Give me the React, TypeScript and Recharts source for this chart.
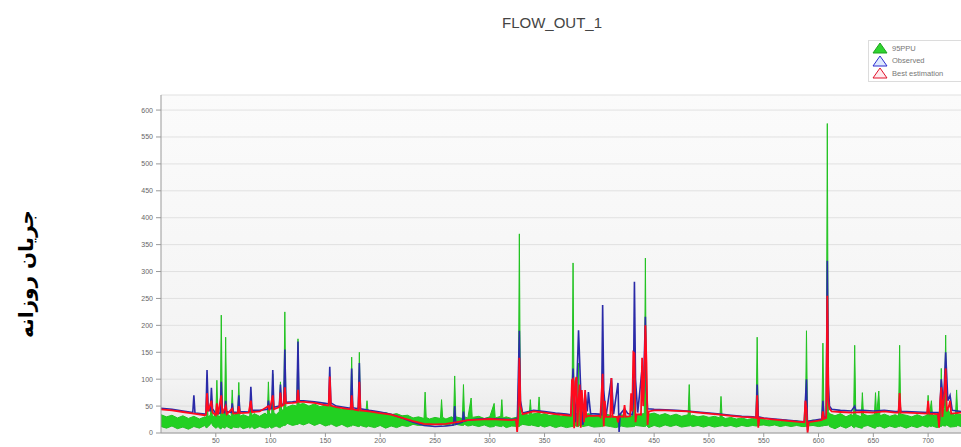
import { Area, CartesianGrid, ComposedChart, Line, XAxis, YAxis } from "recharts";

// 95PPU band: [day, lower, upper]
const ppuBand: [number, number, number][] = [
  [0, 12, 34], [5, 9, 30], [10, 13, 33], [15, 8, 28], [20, 11, 32], [25, 7, 27], [30, 12, 31], [35, 9, 26],
  [40, 14, 30], [41, 10, 28], [42, 10, 60], [43, 12, 30], [45, 16, 33], [46, 20, 50], [47, 14, 30], [50, 9, 34],
  [51, 10, 98], [52, 12, 32], [54, 8, 30], [55, 8, 219], [56, 11, 40], [58, 9, 35], [59, 10, 178], [60, 12, 36],
  [64, 8, 30], [65, 9, 80], [66, 11, 33], [70, 10, 36], [71, 10, 94], [72, 12, 31], [75, 8, 34], [80, 11, 30],
  [81, 9, 33], [82, 10, 70], [83, 12, 32], [85, 8, 36], [90, 12, 31], [95, 9, 37], [97, 10, 33], [98, 10, 95],
  [99, 12, 35], [101, 9, 36], [102, 10, 110], [103, 11, 38], [105, 13, 34], [108, 10, 40], [109, 10, 95], [110, 12, 42],
  [112, 14, 44], [113, 14, 225], [114, 15, 46], [115, 18, 48], [120, 14, 52], [124, 16, 50], [125, 16, 175], [126, 18, 53],
  [130, 15, 55], [135, 19, 50], [140, 14, 54], [145, 18, 49], [150, 13, 52], [153, 15, 48], [154, 15, 80], [155, 17, 50],
  [160, 12, 47], [165, 16, 44], [170, 11, 46], [173, 13, 42], [174, 13, 141], [175, 15, 44], [180, 12, 43], [181, 12, 150],
  [182, 14, 41], [187, 11, 40], [188, 11, 60], [189, 13, 38], [195, 10, 40], [200, 14, 36], [205, 9, 38], [210, 13, 34],
  [215, 10, 36], [220, 14, 32], [225, 12, 33], [230, 16, 28], [235, 14, 30], [240, 15, 27], [241, 15, 76], [242, 16, 29],
  [245, 14, 26], [250, 16, 29], [255, 15, 27], [256, 15, 62], [257, 16, 29], [260, 14, 26], [265, 17, 30], [267, 15, 28],
  [268, 15, 106], [269, 16, 30], [275, 14, 27], [276, 14, 90], [277, 16, 30], [280, 13, 28], [283, 14, 65], [284, 15, 29],
  [290, 12, 31], [295, 15, 27], [300, 11, 30], [304, 12, 55], [305, 14, 28], [310, 12, 31], [311, 12, 62], [312, 14, 28],
  [315, 10, 30], [320, 13, 27], [326, 12, 30], [327, 12, 370], [328, 14, 34], [330, 16, 36], [336, 14, 33], [337, 14, 62],
  [338, 15, 35], [344, 12, 37], [345, 12, 67], [346, 14, 34], [350, 11, 36], [355, 14, 32], [360, 10, 35], [365, 13, 31],
  [370, 10, 33], [375, 12, 32], [376, 12, 316], [377, 14, 40], [380, 12, 35], [381, 12, 130], [382, 14, 38], [385, 12, 33],
  [390, 14, 36], [395, 11, 32], [402, 12, 34], [403, 12, 140], [404, 14, 36], [410, 12, 33], [415, 10, 30], [420, 13, 34],
  [425, 11, 31], [431, 12, 32], [432, 12, 160], [433, 14, 34], [441, 12, 36], [442, 12, 325], [443, 14, 40], [445, 10, 35],
  [450, 14, 37], [455, 11, 33], [460, 15, 36], [465, 12, 32], [470, 15, 35], [475, 11, 31], [481, 13, 34], [482, 13, 90],
  [483, 14, 31], [485, 12, 33], [490, 14, 30], [495, 11, 32], [500, 14, 29], [505, 11, 31], [510, 13, 28], [511, 13, 68],
  [512, 14, 30], [515, 12, 27], [520, 14, 29], [525, 11, 26], [530, 14, 28], [535, 12, 25], [540, 14, 27], [543, 13, 26],
  [544, 13, 178], [545, 14, 28], [550, 15, 25], [555, 13, 23], [560, 15, 25], [565, 12, 22], [570, 14, 24], [575, 12, 21],
  [580, 14, 23], [585, 12, 20], [588, 12, 21], [589, 12, 190], [590, 13, 22], [595, 14, 24], [600, 12, 22], [603, 13, 24],
  [604, 13, 167], [605, 14, 28], [607, 14, 30], [608, 14, 575], [609, 16, 40], [610, 12, 36], [615, 8, 32], [620, 13, 36],
  [625, 9, 30], [630, 14, 35], [632, 10, 31], [633, 10, 163], [634, 12, 34], [639, 9, 30], [640, 9, 75], [641, 12, 35],
  [645, 14, 32], [651, 9, 34], [652, 9, 75], [653, 12, 33], [655, 12, 78], [656, 13, 32], [660, 9, 35], [665, 13, 31],
  [670, 10, 34], [673, 12, 31], [674, 12, 163], [675, 13, 35], [680, 9, 33], [685, 13, 30], [690, 10, 34], [695, 14, 30],
  [699, 11, 33], [700, 11, 70], [701, 13, 31], [703, 12, 60], [704, 13, 32], [708, 10, 34], [711, 12, 35], [712, 12, 120],
  [713, 14, 40], [715, 13, 45], [716, 13, 182], [717, 15, 50], [720, 11, 36], [725, 12, 33], [726, 12, 80], [727, 14, 35],
  [730, 12, 34],
];

// Observed: [day, flow]
const observed: [number, number][] = [
  [0, 46], [10, 44], [20, 41], [29, 38], [30, 70], [31, 37], [40, 35], [41, 36], [42, 117], [43, 50], [45, 40], [46, 84],
  [47, 45], [50, 36], [54, 37], [55, 95], [56, 40], [58, 38], [59, 60], [60, 40], [64, 38], [65, 55], [66, 39], [70, 38],
  [71, 70], [72, 40], [80, 39], [81, 40], [82, 86], [83, 42], [90, 42], [97, 44], [98, 60], [99, 45], [101, 45], [102, 117],
  [103, 48], [108, 50], [109, 90], [110, 52], [112, 54], [113, 155], [114, 57], [120, 58], [124, 59], [125, 170], [126, 60],
  [130, 60], [140, 58], [150, 55], [153, 54], [154, 123], [155, 56], [160, 50], [170, 47], [173, 46], [174, 120], [175, 47],
  [180, 45], [181, 130], [182, 45], [190, 42], [200, 39], [210, 35], [220, 28], [230, 20], [240, 14], [250, 12], [260, 13],
  [267, 15], [268, 50], [269, 16], [275, 20], [276, 40], [277, 22], [280, 24], [290, 26], [300, 27], [310, 26], [320, 25],
  [324, 26], [325, 10], [327, 190], [328, 60], [330, 37], [340, 42], [350, 40], [360, 37], [370, 35], [374, 34], [376, 120],
  [378, 20], [379, 60], [381, 191], [383, 80], [385, 15], [387, 75], [389, 40], [390, 76], [392, 36], [400, 35], [402, 34],
  [403, 238], [404, 80], [406, 30], [411, 102], [413, 35], [417, 93], [418, 2], [419, 35], [423, 45], [426, 36], [430, 34],
  [431, 60], [432, 281], [433, 100], [435, 38], [439, 120], [440, 60], [442, 216], [443, 80], [444, 45], [450, 44], [460, 43],
  [470, 42], [480, 41], [490, 39], [500, 37], [510, 35], [520, 33], [530, 31], [540, 30], [543, 29], [544, 90], [545, 30],
  [550, 28], [560, 26], [570, 24], [580, 22], [587, 21], [589, 100], [590, 5], [591, 22], [600, 25], [603, 26], [604, 60],
  [605, 28], [607, 30], [608, 320], [609, 90], [610, 50], [612, 44], [620, 42], [630, 41], [633, 50], [634, 42], [640, 42],
  [650, 41], [660, 42], [670, 40], [673, 40], [674, 60], [675, 40], [680, 40], [690, 39], [700, 38], [709, 38], [710, 15],
  [712, 100], [714, 50], [716, 150], [718, 60], [720, 70], [722, 42], [730, 40],
];

// Best estimation: [day, flow]
const bestEstimation: [number, number][] = [
  [0, 44], [10, 42], [20, 39], [30, 36], [40, 33], [41, 34], [42, 74], [43, 40], [46, 60], [47, 38], [50, 33], [51, 55],
  [52, 34], [55, 70], [56, 36], [59, 50], [60, 35], [65, 45], [66, 36], [70, 37], [71, 50], [72, 37], [80, 38], [82, 60],
  [83, 39], [90, 40], [98, 50], [99, 42], [102, 70], [103, 44], [108, 48], [109, 75], [110, 50], [112, 52], [113, 85],
  [114, 55], [120, 56], [124, 57], [125, 80], [126, 58], [130, 58], [140, 56], [150, 52], [153, 51], [154, 105], [155, 51],
  [160, 48], [170, 45], [173, 44], [174, 70], [175, 44], [180, 42], [181, 95], [182, 42], [190, 40], [200, 37], [210, 34],
  [220, 28], [230, 22], [240, 17], [250, 16], [260, 17], [270, 20], [280, 24], [290, 25], [300, 26], [310, 25], [320, 24],
  [324, 25], [325, 2], [326, 30], [327, 140], [328, 50], [330, 35], [340, 40], [350, 38], [360, 35], [370, 33], [374, 32],
  [375, 98], [376, 100], [377, 9], [378, 95], [379, 104], [380, 12], [381, 60], [382, 90], [383, 10], [384, 80], [386, 20],
  [387, 80], [388, 30], [390, 32], [400, 32], [401, 30], [402, 74], [403, 110], [404, 12], [405, 60], [406, 30], [410, 30],
  [411, 102], [412, 30], [416, 30], [417, 20], [418, 31], [422, 30], [423, 52], [424, 30], [428, 31], [429, 74], [430, 40],
  [431, 150], [432, 148], [433, 20], [434, 35], [438, 34], [439, 140], [440, 50], [441, 100], [442, 200], [443, 130],
  [444, 15], [445, 40], [450, 42], [460, 42], [470, 41], [480, 40], [490, 38], [500, 36], [510, 34], [520, 32], [530, 30],
  [540, 29], [543, 28], [544, 70], [545, 10], [546, 28], [550, 27], [560, 25], [570, 23], [580, 21], [587, 20], [588, 60],
  [589, 45], [590, 0], [591, 20], [600, 23], [603, 24], [604, 40], [605, 26], [607, 28], [608, 255], [609, 60], [610, 45],
  [612, 40], [620, 39], [630, 38], [640, 39], [650, 38], [660, 40], [670, 38], [673, 38], [674, 74], [675, 38], [680, 38],
  [690, 37], [699, 36], [700, 60], [701, 36], [709, 35], [710, 10], [711, 60], [712, 85], [713, 30], [715, 80], [716, 120],
  [717, 40], [719, 50], [720, 60], [721, 36], [730, 38],
];

const xTicks = [50, 100, 150, 200, 250, 300, 350, 400, 450, 500, 550, 600, 650, 700];
const yTicks = [0, 50, 100, 150, 200, 250, 300, 350, 400, 450, 500, 550, 600];
const legendItems = [
  { label: "95PPU", stroke: "#1fa31f", fill: "#2fd42f" },
  { label: "Observed", stroke: "#2b2bd0", fill: "#dde8ff" },
  { label: "Best estimation", stroke: "#e0102a", fill: "#ffe8ec" },
];

const ppuData = ppuBand.map(([day, lo, hi]) => ({ day, band: [lo, hi] }));
const obsData = observed.map(([day, value]) => ({ day, value }));
const bestData = bestEstimation.map(([day, value]) => ({ day, value }));

const tickStyle = { fontSize: 7, fill: "#666", fontFamily: "Liberation Sans, Arial, sans-serif" };

export default function App() {
  return (
    <div style={{ position: "absolute", left: 0, top: 0, width: 961, height: 447, background: "#fff", overflow: "hidden" }}>
      <div
        style={{
          position: "absolute",
          left: 552,
          top: 22,
          transform: "translate(-50%, -50%)",
          fontFamily: "Liberation Sans, Arial, sans-serif",
          fontSize: 15,
          color: "#444",
          whiteSpace: "nowrap",
        }}
      >
        FLOW_OUT_1
      </div>
      <div
        style={{
          position: "absolute",
          left: 26,
          top: 274,
          transform: "translate(-50%, -50%) rotate(-90deg)",
          fontFamily: "DejaVu Sans, sans-serif",
          fontWeight: "bold",
          fontSize: 20,
          direction: "rtl",
          whiteSpace: "nowrap",
          color: "#000",
        }}
      >
        جریان روزانه
      </div>
      <div
        style={{
          position: "absolute",
          left: 868,
          top: 40,
          width: 100,
          height: 40,
          border: "1px solid #dcdcdc",
          background: "#fff",
          fontFamily: "Liberation Sans, Arial, sans-serif",
          fontSize: 7.5,
          color: "#777",
        }}
      >
        {legendItems.map((it, i) => (
          <div key={it.label} style={{ position: "absolute", left: 3, top: 1 + i * 12.5, display: "flex", alignItems: "center" }}>
            <svg width={16} height={12}>
              <polygon points="8,1 15,11 1,11" fill={it.fill} stroke={it.stroke} strokeWidth={1} />
            </svg>
            <span style={{ marginLeft: 4 }}>{it.label}</span>
          </div>
        ))}
      </div>
      <ComposedChart width={961} height={447} margin={{ top: 95, right: 0, left: 0, bottom: 0 }}>
        <defs>
          <linearGradient id="plotBg" x1="0" y1="0" x2="0" y2="1">
            <stop offset="0%" stopColor="#fbfbfb" />
            <stop offset="85%" stopColor="#f3f3f3" />
            <stop offset="100%" stopColor="#e6e6e6" />
          </linearGradient>
        </defs>
        <CartesianGrid vertical={false} stroke="#e1e1e1" fill="url(#plotBg)" />
        <XAxis
          dataKey="day"
          type="number"
          domain={[0, 728]}
          ticks={xTicks}
          allowDuplicatedCategory={false}
          height={14}
          tick={tickStyle}
          tickSize={4}
          tickMargin={1}
          stroke="#999"
        />
        <YAxis
          type="number"
          domain={[0, 628]}
          ticks={yTicks}
          width={161}
          tick={tickStyle}
          tickSize={5}
          tickMargin={3}
          stroke="#999"
          allowDataOverflow
        />
        <Area
          data={ppuData}
          dataKey="band"
          type="linear"
          stroke="#22c322"
          strokeWidth={1}
          fill="#22d022"
          fillOpacity={1}
          isAnimationActive={false}
          dot={false}
          activeDot={false}
        />
        <Line
          data={obsData}
          dataKey="value"
          type="linear"
          stroke="#2a2aa8"
          strokeWidth={1.6}
          dot={false}
          activeDot={false}
          isAnimationActive={false}
        />
        <Line
          data={bestData}
          dataKey="value"
          type="linear"
          stroke="#ff0a1e"
          strokeWidth={1.8}
          dot={false}
          activeDot={false}
          isAnimationActive={false}
        />
      </ComposedChart>
    </div>
  );
}
